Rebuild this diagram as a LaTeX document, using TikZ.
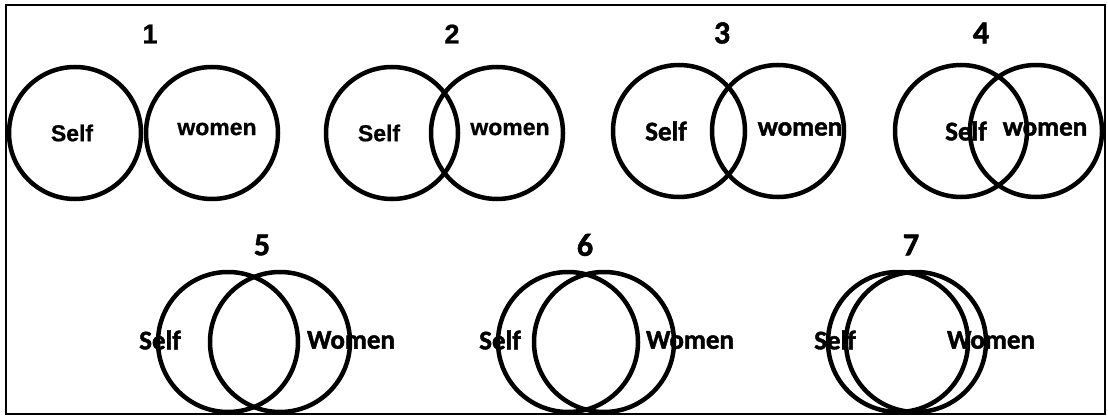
\documentclass[tikz,border=0pt]{standalone}
\usepackage{fontspec}
\setmainfont{Liberation Sans}[BoldFeatures={FakeBold=0.8}]
\newfontfamily\calfont{Carlito}[BoldFeatures={FakeBold=1.6}]
\begin{document}
\begin{tikzpicture}[x=1pt,y=-1pt,
  ring/.style={draw=black,line width=4.5pt,circle,inner sep=0pt,fill=none},
  rA/.style={ring,minimum size=132pt},
  rB/.style={ring,minimum size=140pt},
  lblA/.style={inner sep=0pt,font=\fontsize{23}{23}\selectfont\bfseries},
  lblB/.style={inner sep=0pt,font=\calfont\fontsize{27}{27}\selectfont\bfseries},
  numA/.style={inner sep=0pt,font=\fontsize{27}{27}\selectfont\bfseries},
  numB/.style={inner sep=0pt,font=\calfont\fontsize{32}{32}\selectfont\bfseries}]
\useasboundingbox (0,0) rectangle (1108,417);
\node[draw=black,line width=2pt,minimum width=1099pt,minimum height=409pt,inner sep=0pt] (frame) at (555.5,209.5) {};
% labels
\node[numA] (n1) at (150,34) {1};
\node[numA] (n2) at (452,34) {2};
\node[numB] (n3) at (722,33) {3};
\node[numB] (n4) at (981,33) {4};
\node[numB] (n5) at (262,245) {5};
\node[numB] (n6) at (585,245) {6};
\node[numB] (n7) at (911,245) {7};
\node[lblA] (t1s) at (72,133) {Self};
\node[lblA] (t1w) at (217,129) {women};
\node[lblA] (t2s) at (379,133) {Self};
\node[lblA] (t2w) at (510,129) {women};
\node[lblB] (t3s) at (666,131) {Self};
\node[lblB] (t3w) at (800,129) {women};
\node[lblB] (t4s) at (966,131) {Self};
\node[lblB] (t4w) at (1045,129) {women};
\node[lblB] (t5s) at (160,340) {Self};
\node[lblB] (t5w) at (351,340) {Women};
\node[lblB] (t6s) at (500,340) {Self};
\node[lblB] (t6w) at (690,340) {Women};
\node[lblB] (t7s) at (835,340) {Self};
\node[lblB] (t7w) at (991,340) {Women};
% circles
\node[rA] (c1s) at (75,133) {};
\node[rA] (c1w) at (212,133) {};
\node[rA] (c2s) at (392,133) {};
\node[rA] (c2w) at (497,133) {};
\node[rA] (c3s) at (679,131) {};
\node[rA] (c3w) at (778,131) {};
\node[rA] (c4s) at (961,131) {};
\node[rA] (c4w) at (1036,131) {};
\node[rB] (c5s) at (228,342) {};
\node[rB] (c5w) at (280,342) {};
\node[rB] (c6s) at (568,342) {};
\node[rB] (c6w) at (604,342) {};
\node[rB] (c7s) at (898,342) {};
\node[rB] (c7w) at (916,342) {};
\end{tikzpicture}
\end{document}
